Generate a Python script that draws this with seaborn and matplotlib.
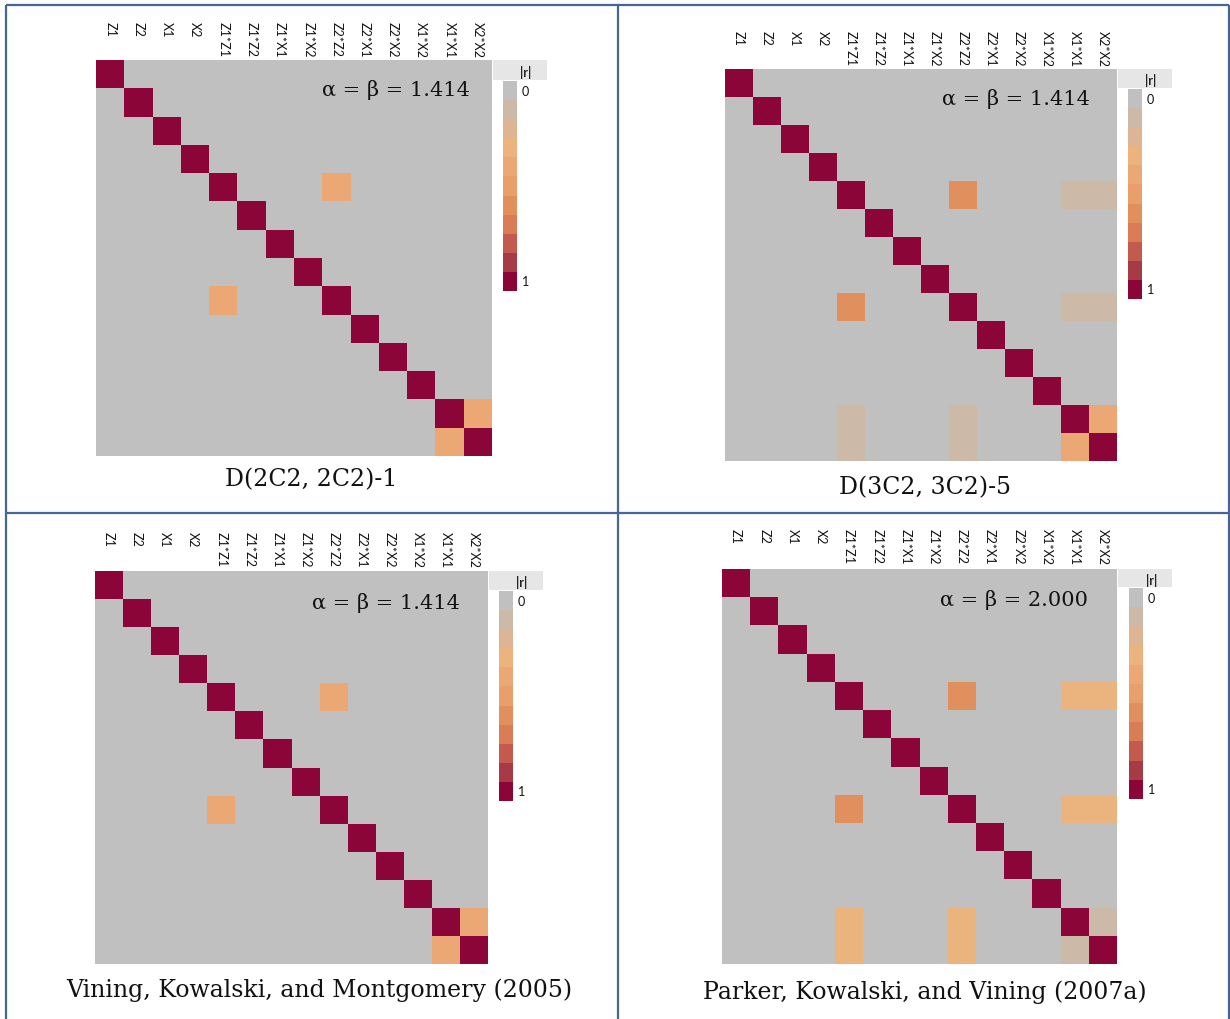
import numpy as np
import pandas as pd
import matplotlib
matplotlib.use("Agg")
import matplotlib.pyplot as plt
import seaborn as sns
from matplotlib.colors import ListedColormap
from matplotlib.patches import Rectangle
from matplotlib.lines import Line2D
from matplotlib.transforms import blended_transform_factory

# ---------------- data ----------------
terms = ["Z1", "Z2", "X1", "X2", "Z1*Z1", "Z1*Z2", "Z1*X1", "Z1*X2",
         "Z2*Z2", "Z2*X1", "Z2*X2", "X1*X2", "X1*X1", "X2*X2"]

titles = ["D(2C2, 2C2)-1", "D(3C2, 3C2)-5",
          "Vining, Kowalski, and Montgomery (2005)",
          "Parker, Kowalski, and Vining (2007a)"]
alpha_beta = ["1.414", "1.414", "1.414", "2.000"]

# off-diagonal |r| values (symmetric pairs); diagonal is 1
pairs_p1 = [("Z1*Z1", "Z2*Z2", 0.40), ("X1*X1", "X2*X2", 0.40)]
pairs_p2 = [("Z1*Z1", "Z2*Z2", 0.60),
            ("Z1*Z1", "X1*X1", 0.12), ("Z1*Z1", "X2*X2", 0.12),
            ("Z2*Z2", "X1*X1", 0.12), ("Z2*Z2", "X2*X2", 0.12),
            ("X1*X1", "X2*X2", 0.40)]
pairs_p3 = [("Z1*Z1", "Z2*Z2", 0.40), ("X1*X1", "X2*X2", 0.40)]
pairs_p4 = [("Z1*Z1", "Z2*Z2", 0.60),
            ("Z1*Z1", "X1*X1", 0.30), ("Z1*Z1", "X2*X2", 0.30),
            ("Z2*Z2", "X1*X1", 0.30), ("Z2*Z2", "X2*X2", 0.30),
            ("X1*X1", "X2*X2", 0.12)]
panel_pairs = [pairs_p1, pairs_p2, pairs_p3, pairs_p4]

level_colors = ["#C0C0C0", "#CDB9A8", "#DDB594", "#EBB37E", "#EBA874",
                "#E89F6A", "#E28F5E", "#DA7C55", "#C45A4E", "#A63A45",
                "#8B0538"]
cmap = ListedColormap(level_colors)

# ---------------- layout (pixels) ----------------
W, H = 1230, 1020
hm_rects = [(96, 61, 492, 457), (725, 70, 1117, 462),
            (95, 572, 488, 965), (722, 570, 1117, 965)]
cb_rects = [(503, 82, 517, 292), (1128, 90, 1142, 300),
            (499, 592, 513, 802), (1129, 589, 1143, 800)]
label_top = [22, 31, 532, 529]
alpha_pos = [(396, 90), (1016, 99), (386, 603), (1014, 600)]
title_pos = [(311, 480), (925, 488), (319, 990), (925, 992)]


def fx(x):
    return x / W


def fy(y):
    return 1 - y / H


fig = plt.figure(figsize=(12.3, 10.2), dpi=100)
fig.patch.set_facecolor("white")

serif = ["DejaVu Serif"]
sans = ["Lato", "DejaVu Sans"]

for p in range(4):
    mat = pd.DataFrame(np.eye(len(terms)), index=terms, columns=terms)
    for a, b, v in panel_pairs[p]:
        mat.loc[a, b] = v
        mat.loc[b, a] = v

    x0, y0, x1, y1 = hm_rects[p]
    ax = fig.add_axes([fx(x0), fy(y1), fx(x1) - fx(x0), fy(y0) - fy(y1)])
    sns.heatmap(mat, ax=ax, cmap=cmap, vmin=0, vmax=1, cbar=False,
                xticklabels=False, yticklabels=False, linewidths=0)
    ax.set_xlabel("")
    ax.set_ylabel("")

    tr = blended_transform_factory(ax.transData, fig.transFigure)
    for i, t in enumerate(terms):
        ax.text(i + 0.5, fy(label_top[p]), t, transform=tr, rotation=-90,
                ha="center", va="top", fontsize=9, family=sans,
                color="#111111")

    ax_x, ax_y = alpha_pos[p]
    fig.text(fx(ax_x), fy(ax_y), "\u03b1 = \u03b2 = " + alpha_beta[p],
             ha="center", va="center", fontsize=15, family=serif,
             color="#111111")

    # colorbar header box
    fig.add_artist(Rectangle((fx(x1 + 1), fy(cb_rects[p][1] - 1)),
                             fx(54), fy(y0) - fy(cb_rects[p][1] - 1),
                             transform=fig.transFigure, facecolor="#E6E6E6",
                             edgecolor="none"))
    cx0, cy0, cx1, cy1 = cb_rects[p]
    fig.text(fx(cx1 + 9), fy((y0 + cy0) / 2 + 1), "|r|", ha="center",
             va="center", fontsize=9, fontweight="bold", family=sans,
             color="#222222")

    cax = fig.add_axes([fx(cx0), fy(cy1), fx(cx1) - fx(cx0), fy(cy0) - fy(cy1)])
    cb_levels = pd.DataFrame({"r": [(k + 0.5) / len(level_colors)
                                    for k in range(len(level_colors))]})
    sns.heatmap(cb_levels, ax=cax, cmap=cmap, vmin=0, vmax=1, cbar=False,
                xticklabels=False, yticklabels=False)
    cax.set_xlabel("")
    cax.set_ylabel("")
    seg = (cy1 - cy0) / len(level_colors)
    fig.text(fx(cx1 + 5), fy(cy0 + seg * 0.5), "0", ha="left", va="center",
             fontsize=9, family=sans, color="#111111")
    fig.text(fx(cx1 + 5), fy(cy1 - seg * 0.5), "1", ha="left", va="center",
             fontsize=9, family=sans, color="#111111")

    tx, ty = title_pos[p]
    fig.text(fx(tx), fy(ty), titles[p], ha="center", va="center",
             fontsize=17, family=serif, color="#111111")

# table borders
bc = "#44669B"
lw = 1.6
for (xa, ya, xb, yb) in [(6, 6, 1229, 6), (6, 6, 6, 1020), (1229, 6, 1229, 1020),
                         (618, 6, 618, 1020), (6, 514, 1229, 514)]:
    fig.add_artist(Line2D([fx(xa), fx(xb)], [fy(ya), fy(yb)],
                          transform=fig.transFigure, color=bc, lw=lw,
                          solid_capstyle="butt"))

fig.savefig("out.png", dpi=100)
